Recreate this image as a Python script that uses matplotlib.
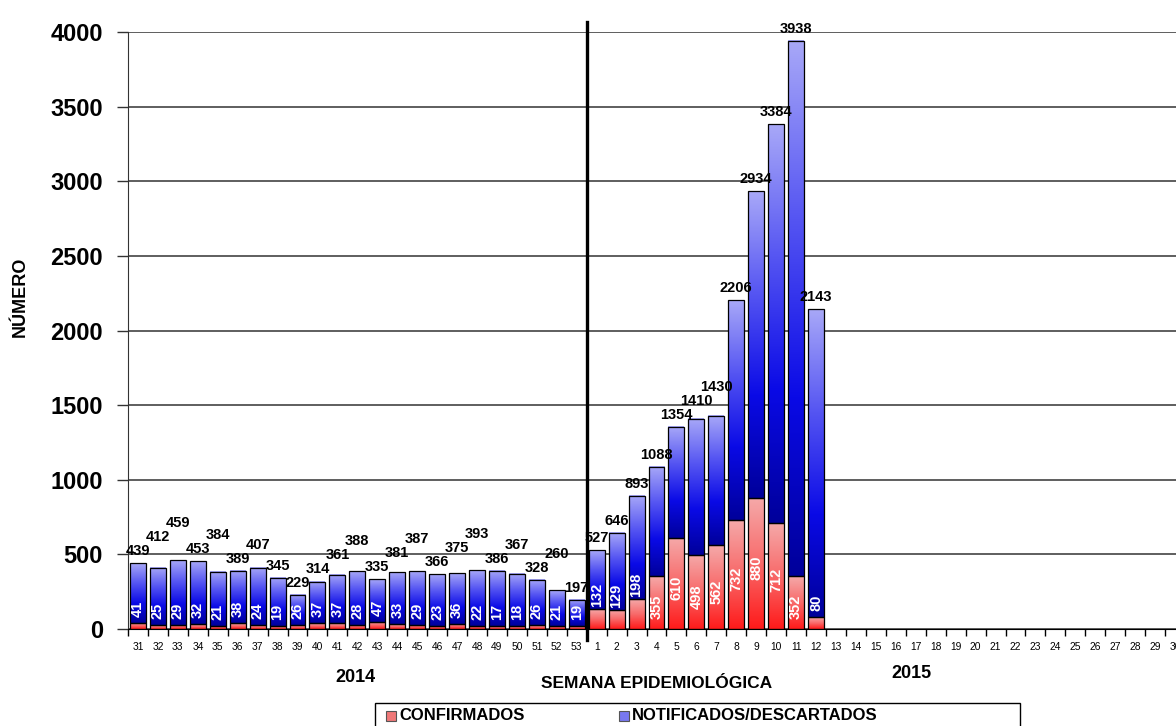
import numpy as np
import matplotlib
matplotlib.use("Agg")
import matplotlib.pyplot as plt
from matplotlib.colors import LinearSegmentedColormap
from matplotlib.patches import Rectangle

plt.rcParams['font.family'] = ['Liberation Sans', 'DejaVu Sans']

# epidemiological weeks shown on the axis
weeks_2014 = list(range(31, 54))
weeks_2015 = list(range(1, 31))

# total reported per week (label above bar)
total_2014 = [439, 412, 459, 453, 384, 389, 407, 345, 229, 314, 361, 388,
              335, 381, 387, 366, 375, 393, 386, 367, 328, 260, 197]
total_2015 = [527, 646, 893, 1088, 1354, 1410, 1430, 2206, 2934, 3384, 3938, 2143]

# confirmed per week (number inside bar)
conf_2014 = [41, 25, 29, 32, 21, 38, 24, 19, 26, 37, 37, 28,
             47, 33, 29, 23, 36, 22, 17, 18, 26, 21, 19]
conf_2015 = [132, 129, 198, 355, 610, 498, 562, 732, 880, 712, 352, 80]

labels = [str(w) for w in weeks_2014 + weeks_2015]
totals = np.array(total_2014 + total_2015)
confirmed = np.array(conf_2014 + conf_2015)
others = totals - confirmed
xs = np.arange(len(totals))

red_cmap = LinearSegmentedColormap.from_list('red', ['#ff1a1a', '#f86a6a', '#f5aaaa'])
blue_cmap = LinearSegmentedColormap.from_list('blue', ['#00009a', '#0a0ae6', '#5555f2', '#a8a8f8'])
grad = np.linspace(0, 1, 256).reshape(-1, 1)

fig = plt.figure(figsize=(11.76, 7.26), dpi=100)
ax = fig.add_axes([128 / 1176, 1 - 629 / 726, 1057 / 1176, 597 / 726])

bars_red = ax.bar(xs, confirmed, width=0.8, facecolor='none', edgecolor='black', lw=0.9, zorder=3)
bars_blue = ax.bar(xs, others, bottom=confirmed, width=0.8, facecolor='none',
                   edgecolor='black', lw=0.9, zorder=3)

# gradient fills for each segment
for bars, cmap in ((bars_red, red_cmap), (bars_blue, blue_cmap)):
    for p in bars:
        x0, y0 = p.get_xy()
        w, h = p.get_width(), p.get_height()
        ax.imshow(grad, extent=[x0, x0 + w, y0, y0 + h], origin='lower', cmap=cmap,
                  aspect='auto', zorder=2, interpolation='bilinear')

# total labels: raise a label above its left neighbour when they would collide
px_per_unit = 597 / 4000
lab_h = 13
prev = None
for xi, t in zip(xs, totals):
    base = t * px_per_unit + 5
    bottom, raised = base, False
    if prev is not None and bottom < prev[1] and bottom + lab_h > prev[0]:
        bottom = prev[1] + 1
        raised = not prev[2]
    prev = (bottom, bottom + lab_h, raised)
    ax.annotate(str(t), (xi, t), xytext=(0, (bottom - t * px_per_unit) * 0.72),
                textcoords='offset points', ha='center', va='bottom',
                fontsize=10.5, fontweight='bold')

# confirmed labels inside the bars
for xi, c in zip(xs, confirmed):
    yc = max(c / 2 - 30, 125) if c > 300 else c + 95
    ax.text(xi, yc, str(c), rotation=90, color='white', fontweight='bold',
            fontsize=10.5, ha='center', va='center', zorder=4)

ax.set_xlim(-0.5, len(labels) - 0.5)
ax.set_ylim(0, 4000)

ax.set_xticks(np.arange(len(labels)))
ax.set_xticklabels(labels, fontsize=7.4)
ax.set_xticks(np.arange(len(labels) + 1) - 0.5, minor=True)
ax.tick_params(axis='x', which='major', length=0, pad=9)
ax.tick_params(axis='x', which='minor', length=5, width=1, color='black')

ax.set_yticks(range(0, 4001, 500))
ax.set_yticklabels([str(v) for v in range(0, 4001, 500)], fontsize=17, fontweight='bold')
ax.tick_params(axis='y', length=8, width=1, color='#333333', pad=10)

ax.yaxis.grid(True, color='#333333', lw=1.1)
ax.set_axisbelow(True)
for s in ('top', 'right'):
    ax.spines[s].set_visible(False)
ax.spines['left'].set_color('#333333')
ax.spines['bottom'].set_color('black')

# year separator
ax.axvline(len(weeks_2014) - 0.5, ymin=-0.018, ymax=1.016, color='black', lw=2.4,
           clip_on=False, zorder=5)

fig.text(20 / 1176, 1 - 297 / 726, 'NÚMERO', rotation=90, ha='center', va='center',
         fontsize=13, fontweight='bold')
fig.text(355 / 1176, 1 - 677 / 726, '2014', ha='center', va='center', fontsize=13, fontweight='bold')
fig.text(657 / 1176, 1 - 683 / 726, 'SEMANA EPIDEMIOLÓGICA', ha='center', va='center',
         fontsize=12.5, fontweight='bold')
fig.text(911 / 1176, 1 - 673 / 726, '2015', ha='center', va='center', fontsize=13, fontweight='bold')

# legend box
fig.patches.append(Rectangle((375 / 1176, -0.02), 645 / 1176, 23 / 726 + 0.02,
                             transform=fig.transFigure, fill=False, ec='black', lw=1))
fig.patches.append(Rectangle((386 / 1176, 1 - 721 / 726), 10 / 1176, 10 / 726,
                             transform=fig.transFigure, fc='#f07878', ec='#555555', lw=0.8))
fig.text(399 / 1176, 1 - 716 / 726, 'CONFIRMADOS', ha='left', va='center',
         fontsize=12, fontweight='bold')
fig.patches.append(Rectangle((619 / 1176, 1 - 721 / 726), 10 / 1176, 10 / 726,
                             transform=fig.transFigure, fc='#7878f0', ec='#555555', lw=0.8))
fig.text(632 / 1176, 1 - 716 / 726, 'NOTIFICADOS/DESCARTADOS', ha='left', va='center',
         fontsize=12, fontweight='bold')

fig.savefig('out.png', dpi=100)
